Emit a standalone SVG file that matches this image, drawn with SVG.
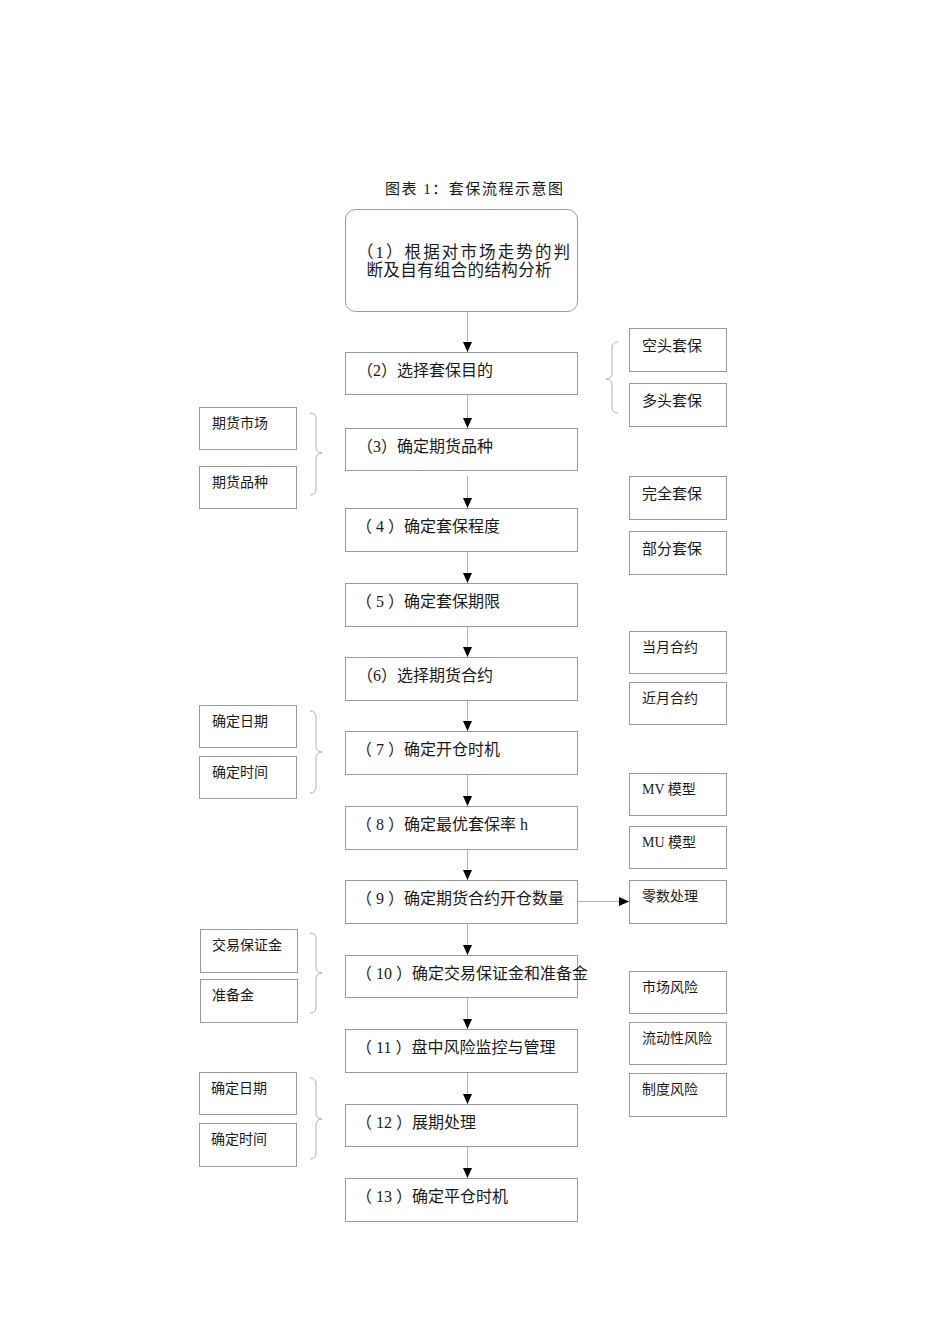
<svg xmlns="http://www.w3.org/2000/svg" width="950" height="1344" viewBox="0 0 950 1344">
<style>
.bx{fill:#fff;stroke:#9a9a9a;stroke-width:1}
.t{font-family:"Liberation Serif","Noto Sans CJK SC",serif;fill:#1a1a1a}
.m{font-size:16px}
.s{font-size:14px}
.s15{font-size:15px}
.ln{stroke:#b4b4b4;stroke-width:1;fill:none}
.br{stroke:#b0b0b0;stroke-width:1;fill:none}
</style>
<defs>
<marker id="ah" markerUnits="userSpaceOnUse" viewBox="0 0 10 9" markerWidth="10" markerHeight="9" refX="10" refY="4.5" orient="auto">
<path d="M0,0 L10,4.5 L0,9 Z" fill="#000"/>
</marker>
</defs>
<rect width="950" height="1344" fill="#fff"/>
<text class="t" x="385" y="194" font-size="15" textLength="178" lengthAdjust="spacing">图表 1：套保流程示意图</text>

<g id="connectors">
<line class="ln" x1="467.5" y1="311" x2="467.5" y2="352" marker-end="url(#ah)"/>
<line class="ln" x1="467.5" y1="394" x2="467.5" y2="428" marker-end="url(#ah)"/>
<line class="ln" x1="467.5" y1="476" x2="467.5" y2="508" marker-end="url(#ah)"/>
<line class="ln" x1="467.5" y1="551" x2="467.5" y2="583" marker-end="url(#ah)"/>
<line class="ln" x1="467.5" y1="626" x2="467.5" y2="657" marker-end="url(#ah)"/>
<line class="ln" x1="467.5" y1="700" x2="467.5" y2="731" marker-end="url(#ah)"/>
<line class="ln" x1="467.5" y1="774" x2="467.5" y2="806" marker-end="url(#ah)"/>
<line class="ln" x1="467.5" y1="849" x2="467.5" y2="880" marker-end="url(#ah)"/>
<line class="ln" x1="467.5" y1="923" x2="467.5" y2="955" marker-end="url(#ah)"/>
<line class="ln" x1="467.5" y1="997" x2="467.5" y2="1029" marker-end="url(#ah)"/>
<line class="ln" x1="467.5" y1="1072" x2="467.5" y2="1104" marker-end="url(#ah)"/>
<line class="ln" x1="467.5" y1="1146" x2="467.5" y2="1178" marker-end="url(#ah)"/>
<line class="ln" x1="577" y1="901.5" x2="629" y2="901.5" marker-end="url(#ah)"/>
<path class="br" d="M618,342 Q612,342 612,348 L612,373 Q612,379 606,379 Q612,379 612,385 L612,407 Q612,413 618,413"/>
<path class="br" d="M310,413 Q316,413 316,419 L316,447 Q316,453 322,453 Q316,453 316,459 L316,489 Q316,495 310,495"/>
<path class="br" d="M310,711 Q316,711 316,717 L316,746 Q316,752 322,752 Q316,752 316,758 L316,787 Q316,793 310,793"/>
<path class="br" d="M310,933 Q316,933 316,939 L316,967 Q316,973 322,973 Q316,973 316,979 L316,1007 Q316,1013 310,1013"/>
<path class="br" d="M310,1078 Q316,1078 316,1084 L316,1113 Q316,1119 322,1119 Q316,1119 316,1125 L316,1153 Q316,1159 310,1159"/>
</g>

<g id="n1"><rect class="bx" x="345.5" y="209.5" width="232" height="102" rx="10" ry="10"/>
<text class="t" x="357" y="257.5" font-size="16.5" textLength="213" lengthAdjust="spacing">（1）根据对市场走势的判</text>
<text class="t" x="366.5" y="276" font-size="16.5" textLength="185" lengthAdjust="spacing">断及自有组合的结构分析</text></g>
<g id="n2"><rect class="bx" x="345.5" y="352.5" width="232" height="42"/><text class="t m" x="357" y="376">（2）选择套保目的</text></g>
<g id="n3"><rect class="bx" x="345.5" y="428.5" width="232" height="42"/><text class="t m" x="357" y="452">（3）确定期货品种</text></g>
<g id="n4"><rect class="bx" x="345.5" y="508.5" width="232" height="43"/><text class="t m" x="356" y="532">（ 4 ）确定套保程度</text></g>
<g id="n5"><rect class="bx" x="345.5" y="583.5" width="232" height="43"/><text class="t m" x="356" y="607">（ 5 ）确定套保期限</text></g>
<g id="n6"><rect class="bx" x="345.5" y="657.5" width="232" height="43"/><text class="t m" x="357" y="681">（6）选择期货合约</text></g>
<g id="n7"><rect class="bx" x="345.5" y="731.5" width="232" height="43"/><text class="t m" x="356" y="755">（ 7 ）确定开仓时机</text></g>
<g id="n8"><rect class="bx" x="345.5" y="806.5" width="232" height="43"/><text class="t m" x="356" y="830">（ 8 ）确定最优套保率 h</text></g>
<g id="n9"><rect class="bx" x="345.5" y="880.5" width="232" height="43"/><text class="t m" x="356" y="904">（ 9 ）确定期货合约开仓数量</text></g>
<g id="n10"><rect class="bx" x="345.5" y="955.5" width="232" height="42"/><text class="t m" x="356" y="979">（ 10 ）确定交易保证金和准备金</text></g>
<g id="n11"><rect class="bx" x="345.5" y="1029.5" width="232" height="43"/><text class="t m" x="356" y="1053">（ 11 ）盘中风险监控与管理</text></g>
<g id="n12"><rect class="bx" x="345.5" y="1104.5" width="232" height="42"/><text class="t m" x="356" y="1128">（ 12 ）展期处理</text></g>
<g id="n13"><rect class="bx" x="345.5" y="1178.5" width="232" height="43"/><text class="t m" x="356" y="1202">（ 13 ）确定平仓时机</text></g>

<g id="r1"><rect class="bx" x="629.5" y="328.5" width="97" height="43"/><text class="t s15" x="642" y="351">空头套保</text></g>
<g id="r2"><rect class="bx" x="629.5" y="383.5" width="97" height="43"/><text class="t s15" x="642" y="406">多头套保</text></g>
<g id="r3"><rect class="bx" x="629.5" y="476.5" width="97" height="43"/><text class="t s15" x="642" y="499">完全套保</text></g>
<g id="r4"><rect class="bx" x="629.5" y="531.5" width="97" height="43"/><text class="t s15" x="642" y="554">部分套保</text></g>
<g id="r5"><rect class="bx" x="629.5" y="631.5" width="97" height="42"/><text class="t s" x="642" y="652">当月合约</text></g>
<g id="r6"><rect class="bx" x="629.5" y="682.5" width="97" height="42"/><text class="t s" x="642" y="703">近月合约</text></g>
<g id="r7"><rect class="bx" x="629.5" y="773.5" width="97" height="42"/><text class="t s" x="642" y="794">MV 模型</text></g>
<g id="r8"><rect class="bx" x="629.5" y="826.5" width="97" height="42"/><text class="t s" x="642" y="847">MU 模型</text></g>
<g id="r9"><rect class="bx" x="629.5" y="880.5" width="97" height="43"/><text class="t s" x="642" y="901">零数处理</text></g>
<g id="r10"><rect class="bx" x="629.5" y="971.5" width="97" height="42"/><text class="t s" x="642" y="992">市场风险</text></g>
<g id="r11"><rect class="bx" x="629.5" y="1022.5" width="97" height="42"/><text class="t s" x="642" y="1043">流动性风险</text></g>
<g id="r12"><rect class="bx" x="629.5" y="1073.5" width="97" height="43"/><text class="t s" x="642" y="1094">制度风险</text></g>

<g id="l1"><rect class="bx" x="199.5" y="407.5" width="97" height="42"/><text class="t s" x="212" y="428">期货市场</text></g>
<g id="l2"><rect class="bx" x="199.5" y="466.5" width="97" height="42"/><text class="t s" x="212" y="487">期货品种</text></g>
<g id="l3"><rect class="bx" x="199.5" y="705.5" width="97" height="42"/><text class="t s" x="212" y="726">确定日期</text></g>
<g id="l4"><rect class="bx" x="199.5" y="756.5" width="97" height="42"/><text class="t s" x="212" y="777">确定时间</text></g>
<g id="l5"><rect class="bx" x="200.5" y="929.5" width="97" height="43"/><text class="t s" x="212" y="950">交易保证金</text></g>
<g id="l6"><rect class="bx" x="200.5" y="979.5" width="97" height="43"/><text class="t s" x="212" y="1000">准备金</text></g>
<g id="l7"><rect class="bx" x="199.5" y="1072.5" width="97" height="42"/><text class="t s" x="211" y="1093">确定日期</text></g>
<g id="l8"><rect class="bx" x="199.5" y="1123.5" width="97" height="43"/><text class="t s" x="211" y="1144">确定时间</text></g>
</svg>
